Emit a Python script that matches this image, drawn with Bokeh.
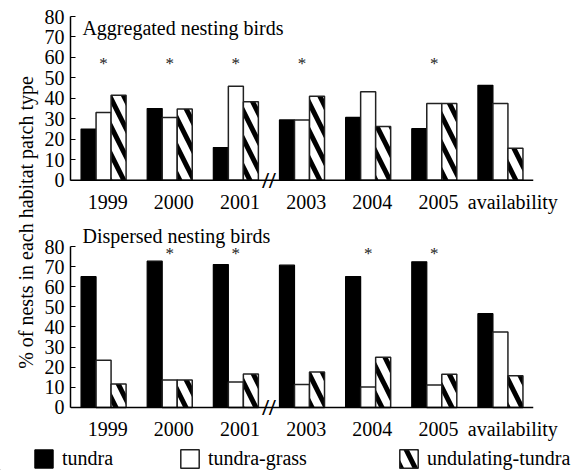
import math
from bokeh.plotting import figure
from bokeh.models import ColumnDataSource, Label, Legend, LegendItem, Range1d, FixedTicker, Span
from bokeh.transform import dodge
from bokeh.layouts import row, column
from bokeh.core.properties import value
from bokeh.embed import file_html
from bokeh.resources import INLINE

# ---------------- data ----------------
categories = ["1999", "2000", "2001", "2003", "2004", "2005", "availability"]
series_names = ["tundra", "tundra-grass", "undulating-tundra"]

agg_tundra = [25, 35, 16, 29.5, 30.7, 25.2, 46.4]
agg_grass = [33.1, 30.7, 45.9, 29.5, 43.3, 37.5, 37.5]
agg_undul = [41.5, 34.8, 38.4, 41.1, 26.3, 37.5, 15.7]
agg_signif = ["*", "*", "*", "*", "", "*", ""]

disp_tundra = [65, 72.7, 71, 70.7, 65.1, 72.4, 46.6]
disp_grass = [23.4, 13.6, 12.7, 11.4, 10.1, 11.2, 37.5]
disp_undul = [11.6, 13.6, 16.6, 17.6, 25, 16.5, 15.7]
disp_signif = ["", "*", "*", "", "*", "*", ""]

yticks = [0, 10, 20, 30, 40, 50, 60, 70, 80]
agg_star_level = 57
disp_star_level = 76.5
axis_break_after = "2001"   # the x axis is broken between 2001 and 2003

FONT = "Liberation Serif"
BW = 0.227
PAD = 5                                  # room below 0 for the axis-break mark
LABEL_SHIFT = [0.0625] * 6 + [0.1875]    # tick-label nudges (style)

centers = [i + 0.5 for i in range(len(categories))]
tick_pos = [c + s for c, s in zip(centers, LABEL_SHIFT)]
overrides = {t: c for t, c in zip(tick_pos, categories)}
break_x = centers[categories.index(axis_break_after)] + 0.5


def panel(tundra, grass, undul, signif, star_level, height, b_top, b_bottom):
    src = ColumnDataSource(dict(xc=centers, tundra=tundra, grass=grass, undul=undul,
                                sig=signif, sy=[star_level] * len(categories)))
    p = figure(width=539, height=height, x_range=Range1d(0, len(categories)),
               y_range=Range1d(-PAD, 80), output_backend="svg", toolbar_location=None,
               min_border_left=30, min_border_right=46, min_border_top=b_top, min_border_bottom=b_bottom)
    p.vbar(x=dodge("xc", -BW), top="tundra", width=BW, source=src,
           fill_color="black", line_color="black", line_width=1.2)
    p.vbar(x=dodge("xc", 0), top="grass", width=BW, source=src,
           fill_color="white", line_color="#222222", line_width=1.5)
    p.vbar(x=dodge("xc", BW), top="undul", width=BW, source=src,
           fill_color="white", line_color="#222222", line_width=1.5,
           hatch_pattern="\\", hatch_color="black", hatch_weight=5, hatch_scale=28)
    p.text(x="xc", y="sy", text="sig", source=src, text_font=value(FONT),
           text_font_size="17px", text_align="center", text_baseline="middle", text_color="#222222")
    # x axis line at zero
    p.add_layout(Span(location=0, dimension="width", line_color="black", line_width=1.5))
    # axis break mark
    p.text(x=[break_x], y=[0], text=["//"], text_font=value(FONT), text_font_size="24px",
           text_font_style="bold", text_align="center", text_baseline="middle", text_color="black")
    p.grid.visible = False
    p.outline_line_color = None
    p.background_fill_color = "white"
    p.border_fill_color = "white"
    for ax in (p.xaxis[0], p.yaxis[0]):
        ax.axis_line_color = "black"
        ax.axis_line_width = 1.5
        ax.major_label_text_font = FONT
        ax.major_label_text_font_size = "20px"
        ax.major_label_text_color = "black"
    p.yaxis.ticker = yticks
    p.yaxis.bounds = (0, 80)
    p.yaxis.major_tick_in = 5
    p.yaxis.major_tick_out = 0
    p.yaxis.minor_tick_line_color = None
    p.yaxis.major_label_standoff = 6
    p.xaxis.ticker = FixedTicker(ticks=tick_pos)
    p.xaxis.major_label_overrides = overrides
    p.xaxis.axis_line_color = None
    p.xaxis.major_tick_line_color = None
    p.xaxis.minor_tick_line_color = None
    p.xaxis.major_label_standoff = -6
    return p


top = panel(agg_tundra, agg_grass, agg_undul, agg_signif, agg_star_level, 215, 16, 23)
top.add_layout(Label(x=0.18, y=74.2, text="Aggregated nesting birds", text_font=FONT,
                     text_font_size="20px", text_baseline="alphabetic", text_color="black"))

bottom = panel(disp_tundra, disp_grass, disp_undul, disp_signif, disp_star_level, 227, 31, 18)
bottom.title.text = "Dispersed nesting birds"
bottom.title.align = "left"
bottom.title.offset = 12
bottom.title.standoff = 0
bottom.title.text_font = FONT
bottom.title.text_font_size = "20px"
bottom.title.text_font_style = "normal"
bottom.title.text_color = "black"

# y-axis title spanning both panels
lab = figure(width=40, height=442, x_range=Range1d(0, 40), y_range=Range1d(0, 442),
             output_backend="svg", toolbar_location=None, min_border=0)
lab.axis.visible = False
lab.grid.visible = False
lab.outline_line_color = None
lab.add_layout(Label(x=25, y=220, text="% of nests in each habitat patch type", angle=math.pi / 2,
                     text_font=FONT, text_font_size="20px", text_align="center",
                     text_baseline="middle", text_color="black"))

# legend strip (the legend swatches need renderers; their one datum sits far off-canvas)
leg = figure(width=575, height=28, x_range=Range1d(0, 1), y_range=Range1d(0, 1),
             output_backend="svg", toolbar_location=None, min_border=0)
leg.axis.visible = False
leg.grid.visible = False
leg.outline_line_color = None
dummy = ColumnDataSource(dict(x=[-1000], top=[-1000], bottom=[-1001]))
r1 = leg.vbar(x="x", top="top", bottom="bottom", width=0.1, source=dummy,
              fill_color="black", line_color="black")
r2 = leg.vbar(x="x", top="top", bottom="bottom", width=0.1, source=dummy,
              fill_color="white", line_color="#222222", line_width=1.5)
r3 = leg.vbar(x="x", top="top", bottom="bottom", width=0.1, source=dummy,
              fill_color="white", line_color="#222222", line_width=1.5,
              hatch_pattern="\\", hatch_color="black", hatch_weight=5, hatch_scale=28)
for r, name, xloc in ((r1, series_names[0], 32), (r2, series_names[1], 178), (r3, series_names[2], 397)):
    lg = Legend(items=[LegendItem(label=name, renderers=[r])], location=(xloc, 0),
                glyph_width=23, glyph_height=23, label_standoff=7, padding=0, margin=0,
                spacing=0, border_line_color=None, background_fill_alpha=0,
                label_text_font=FONT, label_text_font_size="20px", label_text_color="black")
    leg.add_layout(lg)

layout = column(row(lab, column(top, bottom)), leg)

open("out.html", "w").write(file_html(layout, INLINE))
